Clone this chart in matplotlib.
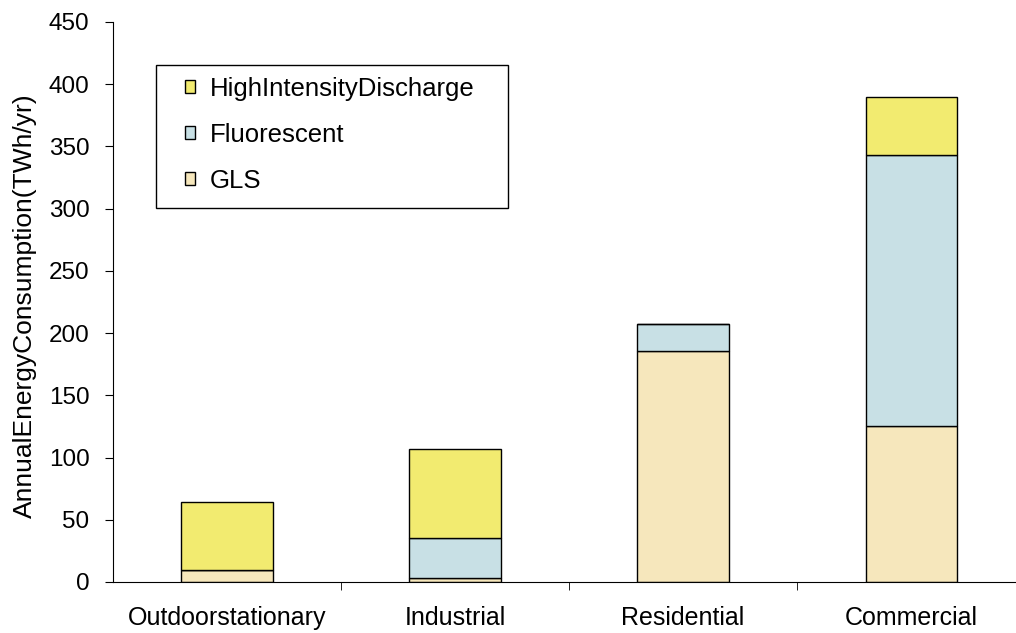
import numpy as np
import matplotlib.pyplot as plt
from matplotlib.patches import Rectangle

plt.rcParams['font.family'] = ['Liberation Sans', 'DejaVu Sans']

categories = ['Outdoorstationary', 'Industrial', 'Residential', 'Commercial']
gls = [10, 3, 186, 125]
fluorescent = [0, 32, 21, 218]
hid = [54, 72, 0, 47]

C_GLS = '#F6E7BC'
C_FLUO = '#C8E0E5'
C_HID = '#F2EB70'


def plot_chart():
    fig = plt.figure(figsize=(10.16, 6.33), dpi=100)
    ax = fig.add_axes([113 / 1016, 1 - 582 / 633, (1016 - 113) / 1016, 560 / 633])
    x = np.arange(len(categories))
    w = 0.4
    kw = dict(width=w, edgecolor='black', linewidth=1.0)
    b1 = ax.bar(x, gls, color=C_GLS, **kw)
    b2 = ax.bar(x, fluorescent, bottom=gls, color=C_FLUO, **kw)
    bottom2 = np.array(gls) + np.array(fluorescent)
    b3 = ax.bar(x, hid, bottom=bottom2, color=C_HID, **kw)

    ax.set_ylim(0, 450)
    ax.set_xlim(-0.5, 3.46)
    ax.set_yticks(range(0, 451, 50))
    ax.set_xticks(x)
    ax.set_xticklabels(categories, fontsize=18)
    ax.set_xticks([0.5, 1.5, 2.5], minor=True)
    ax.tick_params(axis='x', which='major', length=0, pad=17)
    ax.tick_params(axis='x', which='minor', length=6, direction='out')
    ax.tick_params(axis='y', labelsize=17.5, length=6, direction='out', pad=11)
    for s in ['top', 'right']:
        ax.spines[s].set_visible(False)
    ax.set_ylabel('AnnualEnergyConsumption(TWh/yr)', fontsize=19)
    ax.yaxis.set_label_coords(-0.084, 0.494)

    # legend frame drawn by hand (Excel style padding)
    box = Rectangle((0.0476, 0.668), 0.3898, 0.255, transform=ax.transAxes,
                    facecolor='white', edgecolor='black', linewidth=1.0,
                    clip_on=False, zorder=3)
    ax.add_patch(box)
    leg = ax.legend([b3, b2, b1], ['HighIntensityDischarge', 'Fluorescent', 'GLS'],
                    loc='upper left', bbox_to_anchor=(0.0797, 0.902), fontsize=18.5,
                    frameon=False, handlelength=0.4, handleheight=0.4,
                    handletextpad=0.55, labelspacing=0.85, borderpad=0,
                    borderaxespad=0)
    leg.set_zorder(4)

    fig.savefig('out.png', dpi=100)


def main():
    plot_chart()


if __name__ == '__main__':
    main()
